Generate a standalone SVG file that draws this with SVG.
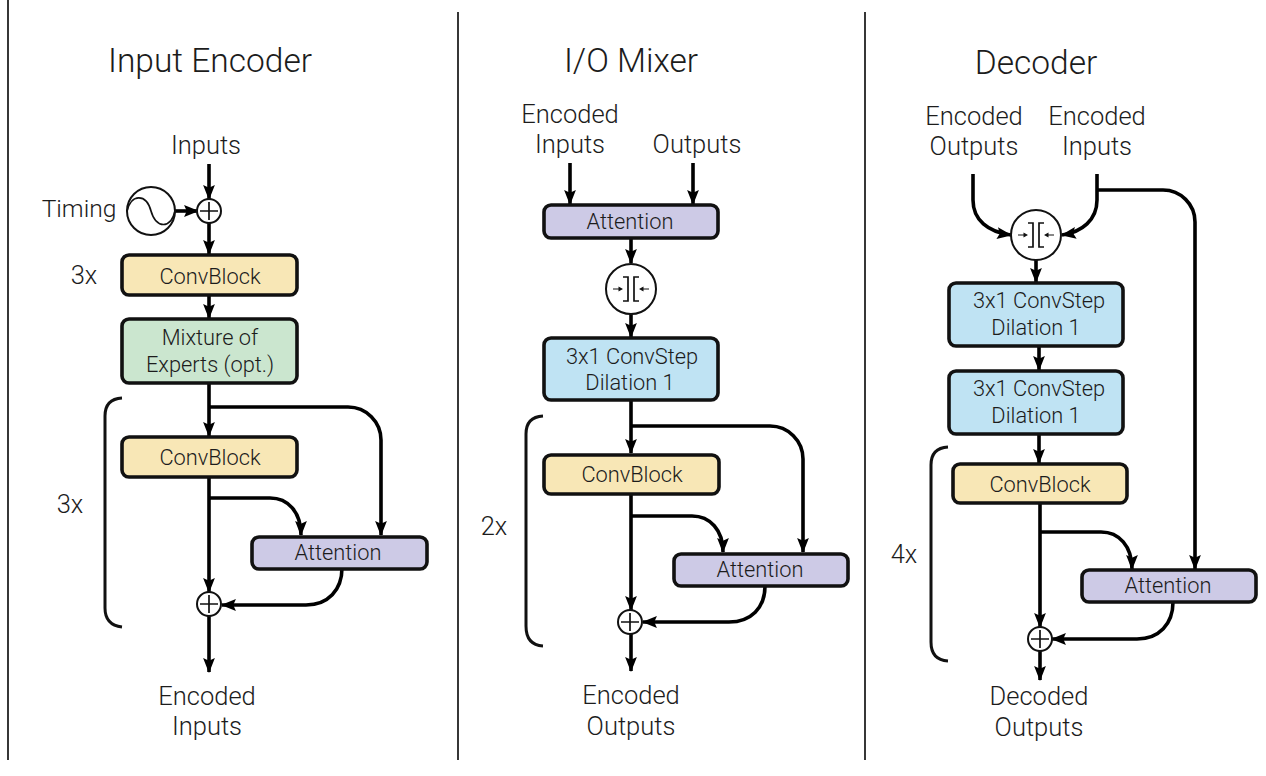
<svg xmlns="http://www.w3.org/2000/svg" width="1266" height="776" viewBox="0 0 1266 776">
<style>
text{font-family:"Roboto","Liberation Sans",sans-serif;font-weight:300;fill:#1c1c1c;text-anchor:middle}
.t{font-size:33.5px}.l{font-size:25.5px}.b{font-size:21.8px}
.box{stroke:#111;stroke-width:3.6}
.y{fill:#f8e7b6}.g{fill:#cbe6cf}.p{fill:#cdcae6}.c{fill:#bfe3f3}
.w{fill:none;stroke:#000;stroke-width:3.6}
.a{marker-end:url(#ah)}
.div{stroke:#222;stroke-width:1.8}
.br{fill:none;stroke:#111;stroke-width:3}
.o{fill:#fff;stroke:#111;stroke-width:2}
.th{fill:none;stroke:#111;stroke-width:1.7}
.tn{fill:none;stroke:#111;stroke-width:1}
.tf{fill:#111}
</style>
<defs>
<marker id="ah" markerUnits="userSpaceOnUse" markerWidth="15" markerHeight="15" refX="13" refY="7" orient="auto" viewBox="0 0 14 14"><path d="M0 1.5 L14 7 L0 12.5 L2.5 7Z" fill="#000"/></marker>
<g id="plus"><circle r="12" class="o"/><path d="M-9 0H9M0-9V9" class="th"/></g>
<g id="merge"><circle r="25" class="o"/><path d="M-8 -12H-3V12H-8M8 -12H3V12H8" class="th"/><path d="M-18 0H-11M18 0H11" class="tn"/><path d="M-8 0L-12.5-2.6V2.6ZM8 0L12.5-2.6V2.6Z" class="tf"/></g>
</defs>
<g id="dividers">
<path class="div" d="M8 0V760M458 12V760M865 12V760"/>
</g>
<g id="connectors">
<!-- panel 1 -->
<path class="w a" d="M209 164V199"/>
<path class="w a" d="M175 211H198"/>
<path class="w a" d="M209 223V254"/>
<path class="w a" d="M209 295V318"/>
<path class="w a" d="M209 383V436"/>
<path class="w a" d="M209 407H348A33 33 0 0 1 381 440V535"/>
<path class="w a" d="M209 477V592"/>
<path class="w a" d="M209 498H270C288 498 301 512 301 535"/>
<path class="w a" d="M342 568C342 590 328 605 306 605H222"/>
<path class="w a" d="M209 616V672"/>
<!-- panel 2 -->
<path class="w a" d="M570 163V204"/>
<path class="w a" d="M693 163V204"/>
<path class="w a" d="M631 238V263"/>
<path class="w a" d="M631 314V337"/>
<path class="w a" d="M631 400V453"/>
<path class="w a" d="M631 426H770A33 33 0 0 1 803 459V552"/>
<path class="w a" d="M631 494V610"/>
<path class="w a" d="M631 516H692C710 516 723 530 723 552"/>
<path class="w a" d="M765 586C765 608 751 622 729 622H643"/>
<path class="w a" d="M631 634V671"/>
<!-- panel 3 -->
<path class="w a" d="M973 174V200C973 220 988 232 1011 235"/>
<path class="w a" d="M1097 174V200C1097 220 1082 232 1062 235"/>
<path class="w a" d="M1097 190H1163A32 32 0 0 1 1195 222V569"/>
<path class="w a" d="M1036 260V282"/>
<path class="w a" d="M1039 346V370"/>
<path class="w a" d="M1039 434V463"/>
<path class="w a" d="M1040 503V627"/>
<path class="w a" d="M1040 532H1101C1119 532 1132 546 1132 569"/>
<path class="w a" d="M1173 602C1173 624 1159 639 1137 639H1052"/>
<path class="w a" d="M1040 651V680"/>
</g>
<g id="brackets">
<path class="br" d="M122 398Q105 399 105 416V608Q105 625 122 627"/>
<path class="br" d="M543 416Q526 417 526 434V626Q526 645 543 646"/>
<path class="br" d="M948 447Q931 448 931 465V642Q931 660 948 661"/>
</g>
<g id="titles">
<text class="t" x="210" y="71.5">Input Encoder</text>
<text class="t" x="631" y="71.5">I/O Mixer</text>
<text class="t" x="1036" y="73.5">Decoder</text>
</g>
<g id="labels">
<text class="l" x="206" y="154">Inputs</text>
<text class="l" x="79" y="217" style="font-size:24.6px">Timing</text>
<text class="l" x="84" y="284">3x</text>
<text class="l" x="70" y="513">3x</text>
<text class="l" x="207" y="705">Encoded</text>
<text class="l" x="207" y="735">Inputs</text>
<text class="l" x="570" y="123">Encoded</text>
<text class="l" x="570" y="153">Inputs</text>
<text class="l" x="697" y="153">Outputs</text>
<text class="l" x="494" y="535">2x</text>
<text class="l" x="631" y="704">Encoded</text>
<text class="l" x="631" y="735">Outputs</text>
<text class="l" x="974" y="125">Encoded</text>
<text class="l" x="974" y="155">Outputs</text>
<text class="l" x="1097" y="125">Encoded</text>
<text class="l" x="1097" y="155">Inputs</text>
<text class="l" x="904" y="563">4x</text>
<text class="l" x="1039" y="705">Decoded</text>
<text class="l" x="1039" y="736">Outputs</text>
</g>
<g id="timing"><circle cx="151" cy="211" r="24" class="o"/><path d="M127 211C131 194 146 193 151 211S171 229 175 211" class="th"/></g>
<g id="add1"><use href="#plus" x="209" y="211"/></g>
<g id="convblock1"><rect class="box y" x="122" y="255" width="175" height="40" rx="7"/><text class="b" x="210" y="284">ConvBlock</text></g>
<g id="moe"><rect class="box g" x="122" y="319" width="175" height="64" rx="7"/><text class="b" x="210" y="345">Mixture of</text><text class="b" x="210" y="372">Experts (opt.)</text></g>
<g id="convblock2"><rect class="box y" x="122" y="437" width="175" height="40" rx="7"/><text class="b" x="210" y="465">ConvBlock</text></g>
<g id="attention1"><rect class="box p" x="252" y="537" width="175" height="32" rx="7"/><text class="b" x="338" y="560">Attention</text></g>
<g id="add2"><use href="#plus" x="209" y="604"/></g>
<g id="attention2"><rect class="box p" x="544" y="205" width="174" height="33" rx="7"/><text class="b" x="630" y="229">Attention</text></g>
<g id="merge1"><use href="#merge" x="631" y="289"/></g>
<g id="convstep1"><rect class="box c" x="544" y="338" width="174" height="62" rx="7"/><text class="b" x="632" y="364">3x1 ConvStep</text><text class="b" x="630" y="390">Dilation 1</text></g>
<g id="convblock3"><rect class="box y" x="544" y="455" width="175" height="39" rx="7"/><text class="b" x="632" y="482">ConvBlock</text></g>
<g id="attention3"><rect class="box p" x="674" y="554" width="174" height="32" rx="7"/><text class="b" x="760" y="577">Attention</text></g>
<g id="add3"><use href="#plus" x="630" y="622"/></g>
<g id="merge2"><use href="#merge" x="1036" y="235"/></g>
<g id="convstep2"><rect class="box c" x="949" y="283" width="174" height="63" rx="7"/><text class="b" x="1039" y="308">3x1 ConvStep</text><text class="b" x="1036" y="335">Dilation 1</text></g>
<g id="convstep3"><rect class="box c" x="949" y="371" width="174" height="63" rx="7"/><text class="b" x="1039" y="396">3x1 ConvStep</text><text class="b" x="1036" y="423">Dilation 1</text></g>
<g id="convblock4"><rect class="box y" x="953" y="464" width="174" height="39" rx="7"/><text class="b" x="1040" y="492">ConvBlock</text></g>
<g id="attention4"><rect class="box p" x="1082" y="570" width="174" height="32" rx="7"/><text class="b" x="1168" y="593">Attention</text></g>
<g id="add4"><use href="#plus" x="1040" y="639"/></g>
</svg>
